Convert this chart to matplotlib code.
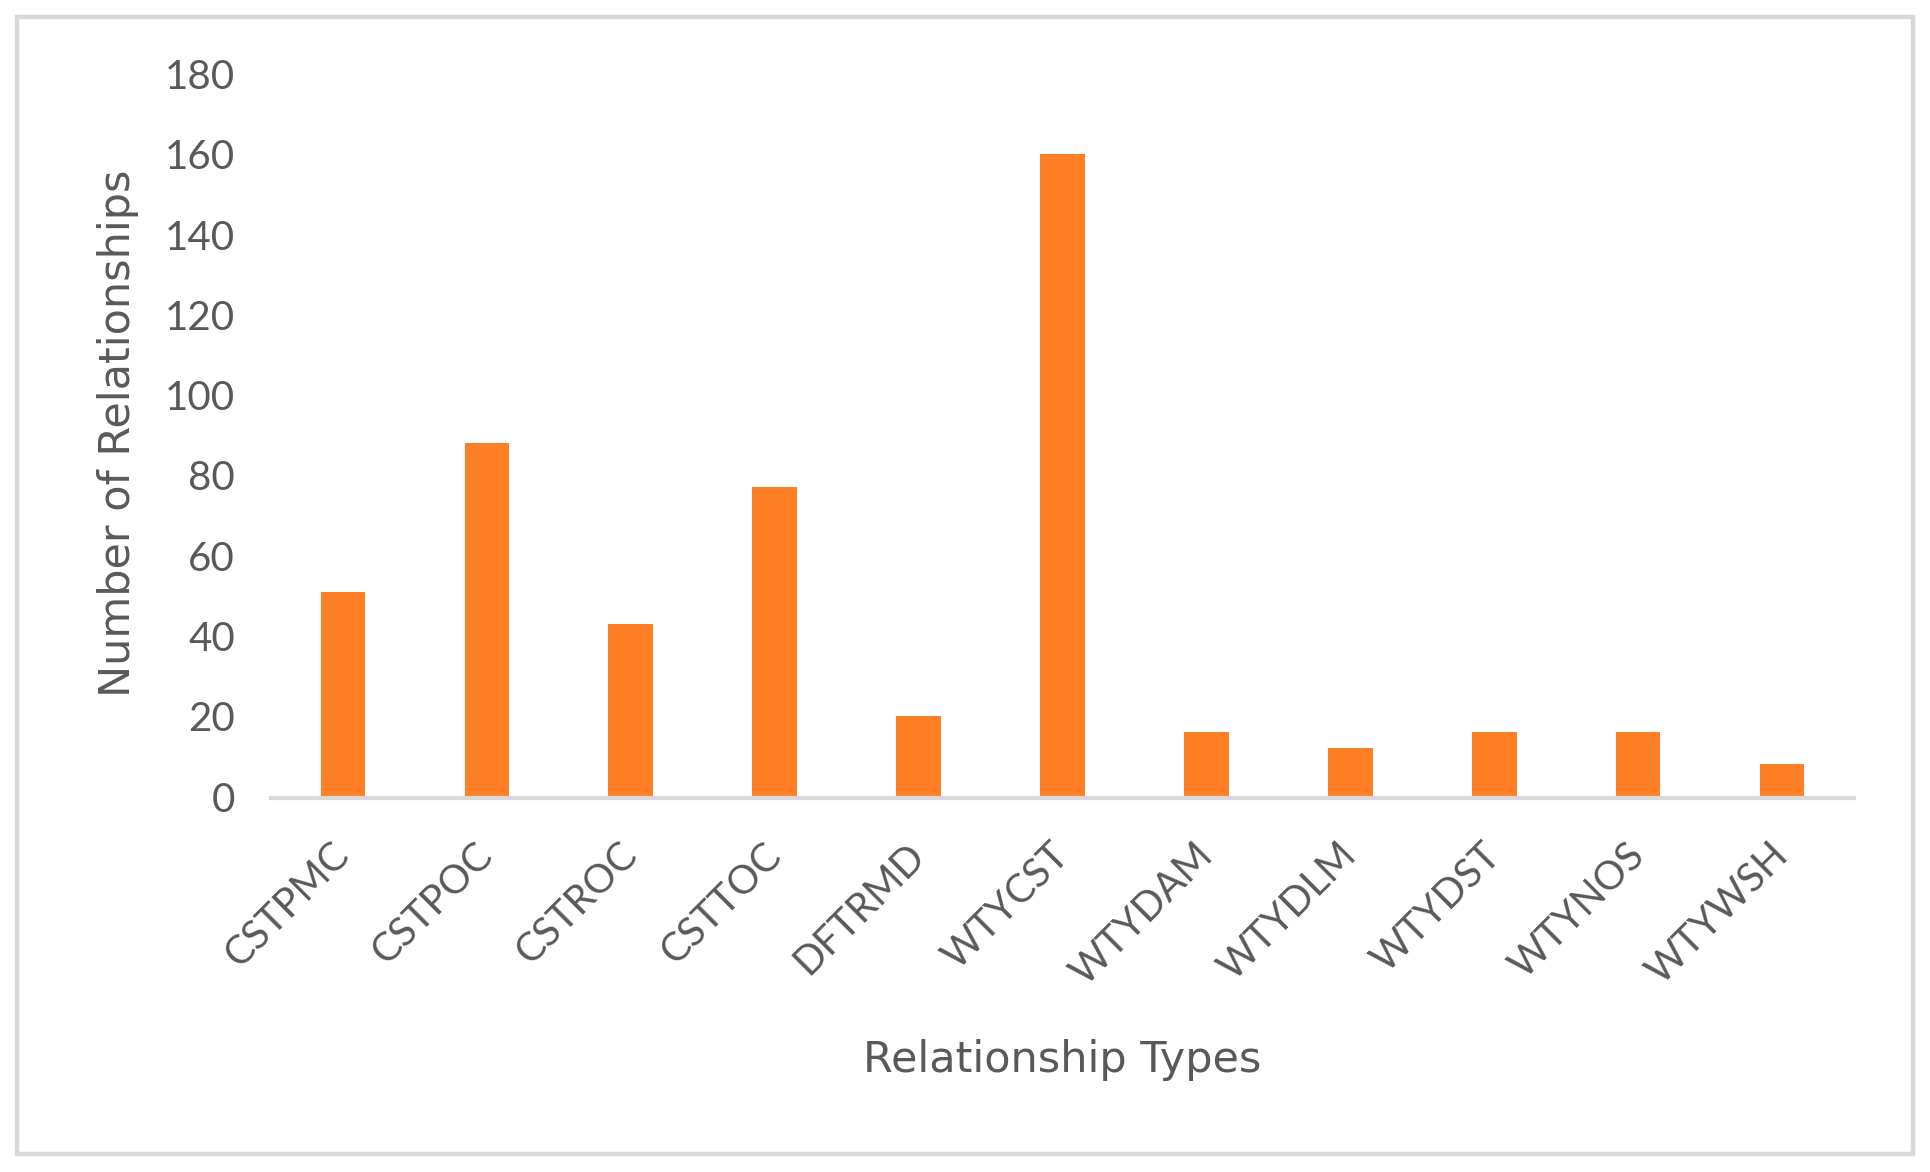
import matplotlib
matplotlib.use("Agg")
import matplotlib.pyplot as plt
from matplotlib.patches import Rectangle

# relationship counts
types = ["CSTPMC", "CSTPOC", "CSTROC", "CSTTOC", "DFTRMD", "WTYCST",
         "WTYDAM", "WTYDLM", "WTYDST", "WTYNOS", "WTYWSH"]
counts = [51, 88, 43, 77, 20, 160, 16, 12, 16, 16, 8]
yticks = [0, 20, 40, 60, 80, 100, 120, 140, 160, 180]

BAR_COLOR = "#FF7F27"
TEXT_COLOR = "#595959"
LINE_COLOR = "#D9D9D9"
W, H = 1930, 1172

fig = plt.figure(figsize=(W / 100, H / 100), dpi=100)
fig.patch.set_facecolor("white")

# light grey chart frame
fig.add_artist(Rectangle((17 / W, 1 - 1153.5 / H), (1912.5 - 17) / W, (1153.5 - 17) / H,
                         transform=fig.transFigure, fill=False,
                         edgecolor=LINE_COLOR, linewidth=3.2))

ax = fig.add_axes([271 / W, 1 - 796.5 / H, (1854 - 271) / W, (796.5 - 74) / H])
ax.bar(range(len(types)), counts, width=0.31, color=BAR_COLOR, zorder=1)

ax.set_xlim(-0.5, len(types) - 0.5)
ax.set_ylim(0, 180)
ax.set_yticks(yticks)
ax.set_xticks(range(len(types)))

for side in ["top", "right", "left"]:
    ax.spines[side].set_visible(False)
ax.spines["bottom"].set_color(LINE_COLOR)
ax.spines["bottom"].set_linewidth(3)
ax.spines["bottom"].set_position(("outward", 1))
ax.spines["bottom"].set_zorder(3)

tick_font = ["Lato", "DejaVu Sans"]
ax.tick_params(axis="y", length=0, pad=26, labelsize=29, labelcolor=TEXT_COLOR)
ax.tick_params(axis="x", length=0, pad=37, labelsize=28.5, labelcolor=TEXT_COLOR)
ax.set_yticklabels([str(v) for v in yticks], family=tick_font)
ax.set_xticklabels(types, family=tick_font, rotation=45, ha="right",
                   va="center", rotation_mode="anchor")

fig.text(118 / W, 1 - 433 / H, "Number of Relationships", rotation=90,
         ha="center", va="center", fontsize=31, color=TEXT_COLOR,
         family="DejaVu Sans")
fig.text(1062 / W, 1 - 1072 / H, "Relationship Types", ha="center",
         va="baseline", fontsize=31, color=TEXT_COLOR, family="DejaVu Sans")

fig.savefig("out.png", dpi=100, facecolor="white")
